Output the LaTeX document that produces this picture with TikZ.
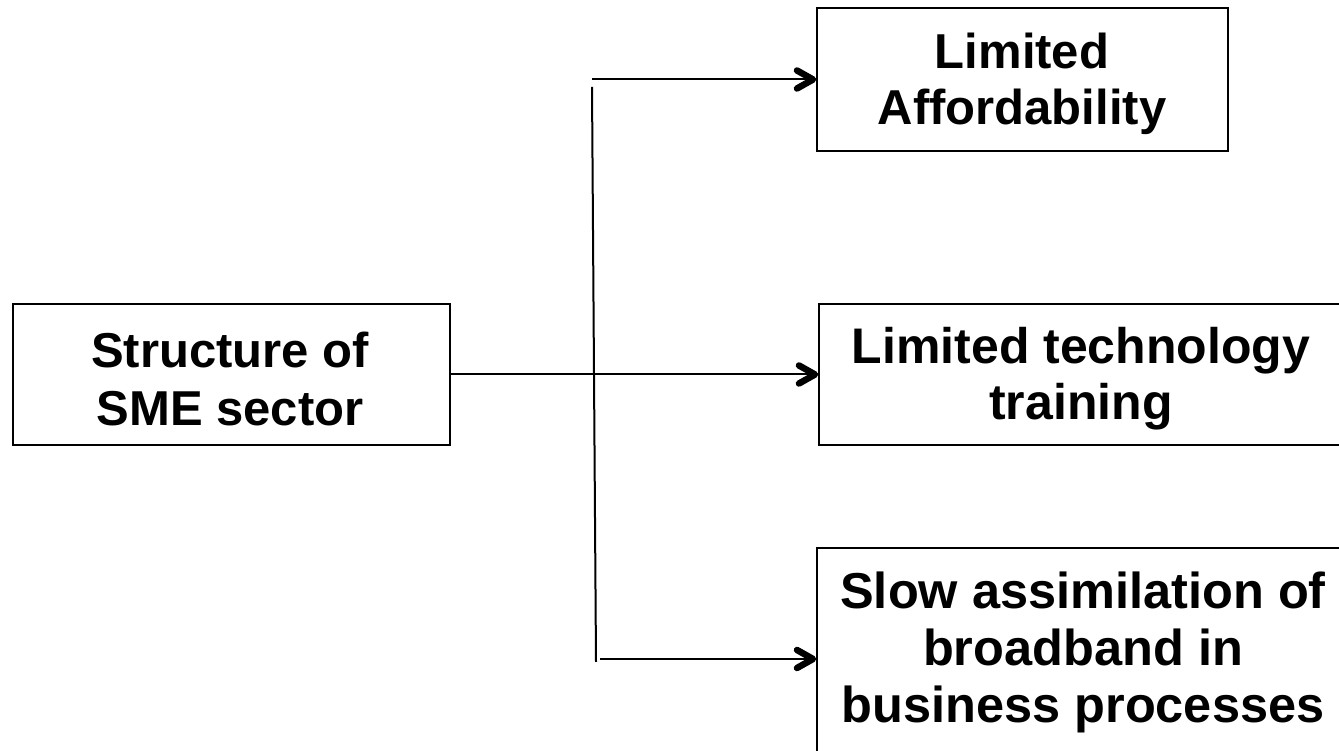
\documentclass[tikz,border=0pt]{standalone}
\usepackage{fontspec}
\setmainfont{Liberation Sans}
\tikzset{
  box/.style={draw=black, line width=2pt, rectangle, inner sep=0pt},
  boxtext/.style 2 args={inner sep=0pt, align=center, font=\bfseries\fontsize{#1}{#2}\selectfont},
  link/.style={line width=2pt, draw=black},
  % open chevron head, its point sitting just inside the given anchor
  chevron/.pic={
    \draw[line width=6.5pt, line cap=round, line join=round]
      (-19pt,9pt) -- (-3pt,0pt) -- (-19pt,-9pt);
  }
}
\begin{document}
\begin{tikzpicture}[x=1pt, y=1pt]
\useasboundingbox (0,0) rectangle (1339,751);
\clip (0,0) rectangle (1339,751);

% boxes
\node[box, minimum width=437pt, minimum height=141pt] (src) at (231.5,376.5) {};
\node[box, minimum width=411pt, minimum height=143pt] (afford) at (1022.5,671.5) {};
\node[box, minimum width=524pt, minimum height=141pt] (train) at (1081,376.5) {};
\node[box, minimum width=532pt, minimum height=222pt] (slow) at (1083,92) {};

% box texts
\node[boxtext={49}{58}] (srcT) at (230,371.6) {Structure of\\SME sector};
\node[boxtext={49}{56}] (affordT) at (1022,667.5) {Limited\\Affordability};
\node[boxtext={50}{56}] (trainT) at (1081,372.8) {Limited technology\\training};
\node[boxtext={50.5}{57}] (slowT) at (1083,98.2) {Slow assimilation of\\broadband in\\business processes};

% branching connector
\coordinate (vtop) at (592,664);
\coordinate (vbot) at (596,89);
\coordinate (b1) at (592,671.5);
\coordinate (b3) at (600,92);

\draw[link] (vtop) -- (vbot);
\draw[link] (b1) -- (afford.west);
\draw[link] (src.east) -- (train.west);
\draw[link] (b3) -- (slow.west);

% arrow heads
\pic at (afford.west) {chevron};
\pic at (train.west) {chevron};
\pic at (slow.west) {chevron};
\end{tikzpicture}
\end{document}
